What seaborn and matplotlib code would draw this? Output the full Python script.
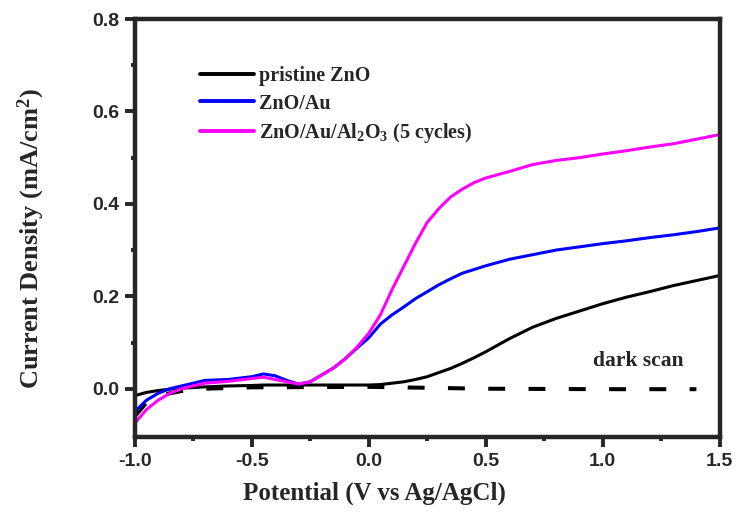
import pandas as pd
import matplotlib.pyplot as plt
import seaborn as sns

# Values
potential = [-1.0, -0.95, -0.9, -0.85, -0.8, -0.7, -0.6, -0.5, -0.45, -0.4, -0.35, -0.3,
             -0.25, -0.2, -0.15, -0.1, -0.05, 0.0, 0.05, 0.1, 0.15, 0.2, 0.25, 0.3, 0.35,
             0.4, 0.45, 0.5, 0.6, 0.7, 0.8, 0.9, 1.0, 1.1, 1.2, 1.3, 1.4, 1.5]
pristine = [-0.015, -0.008, -0.004, -0.001, 0.001, 0.004, 0.006, 0.007, 0.008, 0.008, 0.008, 0.008,
            0.008, 0.008, 0.008, 0.008, 0.008, 0.008, 0.009, 0.012, 0.015, 0.02, 0.026, 0.035, 0.044,
            0.055, 0.067, 0.08, 0.108, 0.133, 0.152, 0.168, 0.184, 0.198, 0.21, 0.223, 0.234, 0.245]
zno_au = [-0.05, -0.025, -0.01, 0.0, 0.006, 0.018, 0.02, 0.026, 0.032, 0.028, 0.018, 0.01,
          0.015, 0.03, 0.045, 0.065, 0.088, 0.11, 0.14, 0.16, 0.177, 0.195, 0.21, 0.225, 0.238,
          0.25, 0.258, 0.266, 0.28, 0.29, 0.3, 0.307, 0.314, 0.32, 0.327, 0.333, 0.34, 0.348]
zno_au_al2o3 = [-0.075, -0.045, -0.025, -0.01, 0.0, 0.012, 0.016, 0.022, 0.025, 0.02, 0.015, 0.01,
                0.015, 0.03, 0.045, 0.065, 0.09, 0.12, 0.16, 0.215, 0.265, 0.315, 0.36, 0.39, 0.415,
                0.432, 0.446, 0.456, 0.47, 0.485, 0.494, 0.5, 0.508, 0.515, 0.523, 0.53, 0.54, 0.55]
dark_potential = [-1.0, -0.95, -0.9, -0.8, -0.7, -0.5, 0.0, 0.5, 1.0, 1.4]
dark = [-0.06, -0.03, -0.015, -0.005, 0.0, 0.003, 0.004, 0.0, -0.001, -0.001]

labels = ["pristine ZnO", "ZnO/Au", "ZnO/Au/Al$_2$O$_3$ (5 cycles)"]
colors = ["black", "#0000ff", "#ff00ff"]

df = pd.DataFrame({"Potential": potential * 3,
                   "Current": pristine + zno_au + zno_au_al2o3,
                   "Sample": [labels[0]] * len(potential) + [labels[1]] * len(potential)
                   + [labels[2]] * len(potential)})
dark_df = pd.DataFrame({"Potential": dark_potential, "Current": dark})

sns.set_style("ticks")
plt.rcParams["font.family"] = ["Liberation Serif", "DejaVu Serif"]
plt.rcParams["mathtext.fontset"] = "custom"
plt.rcParams["mathtext.rm"] = "Liberation Serif:bold"
plt.rcParams["mathtext.it"] = "Liberation Serif:bold"
plt.rcParams["mathtext.bf"] = "Liberation Serif:bold"

fig, ax = plt.subplots(figsize=(7.36, 5.15), dpi=100)
fig.subplots_adjust(left=0.183, right=0.978, top=0.963, bottom=0.151)

sns.lineplot(data=dark_df, x="Potential", y="Current", color="black", lw=2.9,
             linestyle=(0, (4.2, 5.8)), ax=ax, legend=False)
sns.lineplot(data=df, x="Potential", y="Current", hue="Sample", palette=colors,
             lw=2.2, ax=ax)

ax.set_xlim(-1.0, 1.5)
ax.set_ylim(-0.105, 0.8)
ax.set_xticks([-1.0, -0.5, 0.0, 0.5, 1.0, 1.5])
ax.set_xticks([-0.75, -0.25, 0.25, 0.75, 1.25], minor=True)
ax.set_yticks([0.0, 0.2, 0.4, 0.6, 0.8])
ax.set_yticks([0.1, 0.3, 0.5, 0.7], minor=True)
ax.set_xticklabels(["-1.0", "-0.5", "0.0", "0.5", "1.0", "1.5"])
ax.set_yticklabels(["0.0", "0.2", "0.4", "0.6", "0.8"])
for lab in ax.get_xticklabels() + ax.get_yticklabels():
    lab.set_family("Liberation Sans")
    lab.set_fontweight("bold")
    lab.set_fontsize(14)
ax.tick_params(which="major", direction="out", length=7, width=2.8, pad=4)
ax.tick_params(which="minor", direction="out", length=3, width=2.8)
for s in ax.spines.values():
    s.set_linewidth(3.2)

ax.set_xlabel("Potential (V vs Ag/AgCl)", fontsize=18, fontweight="bold")
ax.xaxis.set_label_coords(0.41, -0.105)
ax.set_ylabel("Current Density (mA/cm$^2$)", fontsize=19, fontweight="bold")
ax.yaxis.set_label_coords(-0.15, 0.476)

ax.text(0.96, 0.06, "dark scan", fontsize=15.5, fontweight="bold", va="center")

leg = ax.legend(loc="upper left", bbox_to_anchor=(0.08, 0.93), frameon=False,
                prop={"weight": "bold", "size": 14.5}, handlelength=2.7,
                handletextpad=0.25, labelspacing=0.35)
for h in leg.get_lines():
    h.set_linewidth(2.8)

fig.savefig("out.png", dpi=100)
